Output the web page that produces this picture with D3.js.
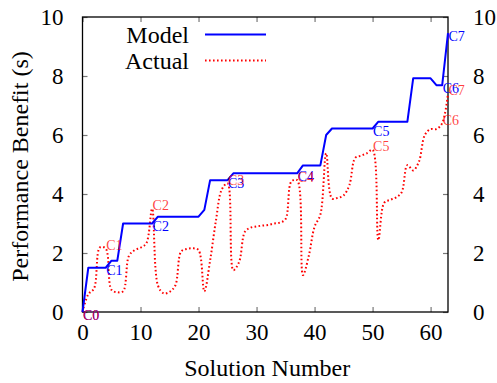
<!DOCTYPE html>
<html>
<head>
<meta charset="utf-8">
<script src="https://cdn.jsdelivr.net/npm/d3@7"></script>
<style>
  body { margin: 0; background: #fff; }
  svg text { font-family: "Liberation Serif", "Times New Roman", Times, "Nimbus Roman", "Noto Serif", "DejaVu Serif", FreeSerif, serif !important; }
</style>
</head>
<body>
<svg id="chart" width="497" height="383"></svg>
<script>
// solution numbers 0..63
const solutions = d3.range(0, 64)

// predicted benefit (step line)
const modelValues = [
    0, 1.5, 1.5, 1.5, 1.5, 1.74, 1.74, 3.0, 3.0, 3.0,
    3.0, 3.0, 3.0, 3.23, 3.23, 3.23, 3.23, 3.23, 3.23, 3.23,
    3.23, 3.46, 4.47, 4.47, 4.47, 4.47, 4.7, 4.7, 4.7, 4.7,
    4.7, 4.7, 4.7, 4.7, 4.7, 4.7, 4.7, 4.7, 4.97, 4.97,
    4.97, 4.97, 6.0, 6.22, 6.22, 6.22, 6.22, 6.22, 6.22, 6.22,
    6.22, 6.45, 6.45, 6.45, 6.45, 6.45, 6.45, 7.92, 7.92, 7.92,
    7.92, 7.69, 7.69, 9.45
]

// measured benefit
const actualValues = [
    0, 0.6, 0.8, 2.19, 2.15, 0.75, 0.67, 0.7, 1.9, 2.1,
    2.18, 2.33, 3.5, 0.9, 0.63, 0.68, 0.9, 2.05, 2.14, 2.16,
    2.1, 0.7, 1.75, 3.1, 4.15, 4.36, 1.42, 1.7, 2.72, 2.86,
    2.9, 2.93, 2.95, 3.0, 3.03, 3.15, 4.42, 4.47, 1.25, 1.9,
    2.89, 3.3, 5.38, 3.85, 3.87, 3.95, 4.3, 5.22, 5.3, 5.38,
    5.5, 2.44, 3.7, 3.8, 3.88, 4.05, 4.98, 4.8, 5.1, 6.0,
    6.2, 6.2, 6.4, 7.4
]

// labelled configurations
const configNames = ["C0", "C1", "C2", "C3", "C4", "C5", "C6", "C7"]
const configIndex = [0, 4, 12, 25, 37, 50, 62, 63]

const xTicks = [0, 10, 20, 30, 40, 50, 60]
const yTicks = [0, 2, 4, 6, 8, 10]

const seriesNames = ["Model", "Actual"]
const seriesColors = ["#0000ff", "#ff0000"]

const svg = d3.select("#chart")

const plotLeft = 82.5, plotRight = 448, plotTop = 17, plotBottom = 312

const x = d3.scaleLinear().domain([0, 63]).range([plotLeft, plotRight])
const y = d3.scaleLinear().domain([0, 10]).range([plotBottom, plotTop])

// axes with inward ticks (gnuplot style, mirrored)
const tickColor = "#777"
const axisBottom = svg.append("g").attr("transform", "translate(0," + plotBottom + ")")
    .call(d3.axisBottom(x).tickValues(xTicks).tickSize(-5).tickPadding(12).tickFormat(d3.format("d")))
const axisTop = svg.append("g").attr("transform", "translate(0," + plotTop + ")")
    .call(d3.axisTop(x).tickValues(xTicks).tickSize(-5).tickFormat(""))
const axisLeft = svg.append("g").attr("transform", "translate(" + plotLeft + ",0)")
    .call(d3.axisLeft(y).tickValues(yTicks).tickSize(-5).tickPadding(19).tickFormat(d3.format("d")))
const axisRight = svg.append("g").attr("transform", "translate(" + plotRight + ",0)")
    .call(d3.axisRight(y).tickValues(yTicks).tickSize(-5).tickPadding(25).tickFormat(d3.format("d")))

for (const a of [axisBottom, axisTop, axisLeft, axisRight]) {
    a.attr("font-family", null)
    a.select(".domain").remove()
    a.selectAll(".tick line").attr("stroke", tickColor).attr("stroke-width", 1.2)
    a.selectAll(".tick text").attr("fill", "#000").style("font-size", "23px")
}
axisBottom.selectAll(".tick text").attr("dy", "0.71em")
axisLeft.selectAll(".tick text").attr("dy", "0.34em")
axisRight.selectAll(".tick text").attr("dy", "0.34em")

// plot border
svg.append("rect")
    .attr("x", plotLeft).attr("y", plotTop)
    .attr("width", plotRight - plotLeft).attr("height", plotBottom - plotTop)
    .attr("fill", "none").attr("stroke", "#000").attr("stroke-width", 1.3)

// axis titles
svg.append("text")
    .attr("x", (plotLeft + plotRight) / 2 + 2).attr("y", 376)
    .attr("text-anchor", "middle").style("font-size", "24px")
    .text("Solution Number")

svg.append("text")
    .attr("transform", "translate(28," + ((plotTop + plotBottom) / 2 + 2) + ") rotate(-90)")
    .attr("text-anchor", "middle").style("font-size", "24px")
    .text("Performance Benefit (s)")

// lines
const modelLine = d3.line()
    .x((d, i) => x(solutions[i]))
    .y(d => y(d))

const actualLine = d3.line()
    .x((d, i) => x(solutions[i]))
    .y(d => y(d))
    .curve(d3.curveCatmullRom.alpha(0.5))

svg.append("path")
    .datum(actualValues)
    .attr("fill", "none")
    .attr("stroke", seriesColors[1])
    .attr("stroke-width", 2)
    .attr("stroke-dasharray", "1.6,2.4")
    .attr("d", actualLine)

svg.append("path")
    .datum(modelValues)
    .attr("fill", "none")
    .attr("stroke", seriesColors[0])
    .attr("stroke-width", 2)
    .attr("stroke-linejoin", "round")
    .attr("d", modelLine)

// C labels, blue sits just under the model point, red just above the actual curve
svg.append("g").selectAll("text")
    .data(configNames)
    .enter()
    .append("text")
    .attr("x", (d, i) => x(solutions[configIndex[i]]) + 0.5)
    .attr("y", (d, i) => y(modelValues[configIndex[i]]) + 3)
    .attr("dominant-baseline", "central")
    .attr("fill", seriesColors[0])
    .style("font-size", "14px")
    .text(d => d)

svg.append("g").selectAll("text")
    .data(configNames)
    .enter()
    .append("text")
    .attr("x", (d, i) => x(solutions[configIndex[i]]) + 0.5)
    .attr("y", (d, i) => {
        const v = actualValues[configIndex[i]]
        return y(v) + (v > 0 ? -3 : 3)
    })
    .attr("dominant-baseline", "central")
    .attr("fill", seriesColors[1])
    .attr("fill-opacity", 0.75)
    .style("font-size", "14px")
    .text(d => d)

// legend
const legend = svg.append("g")
seriesNames.forEach((name, i) => {
    const ly = 34.5 + i * 26
    legend.append("text")
        .attr("x", 189).attr("y", ly + 8)
        .attr("text-anchor", "end").style("font-size", "24px")
        .text(name)
    legend.append("line")
        .attr("x1", 205).attr("x2", 266)
        .attr("y1", ly).attr("y2", ly)
        .attr("stroke", seriesColors[i])
        .attr("stroke-width", 2)
        .attr("stroke-dasharray", i === 1 ? "1.6,2.4" : null)
})
</script>
</body>
</html>
